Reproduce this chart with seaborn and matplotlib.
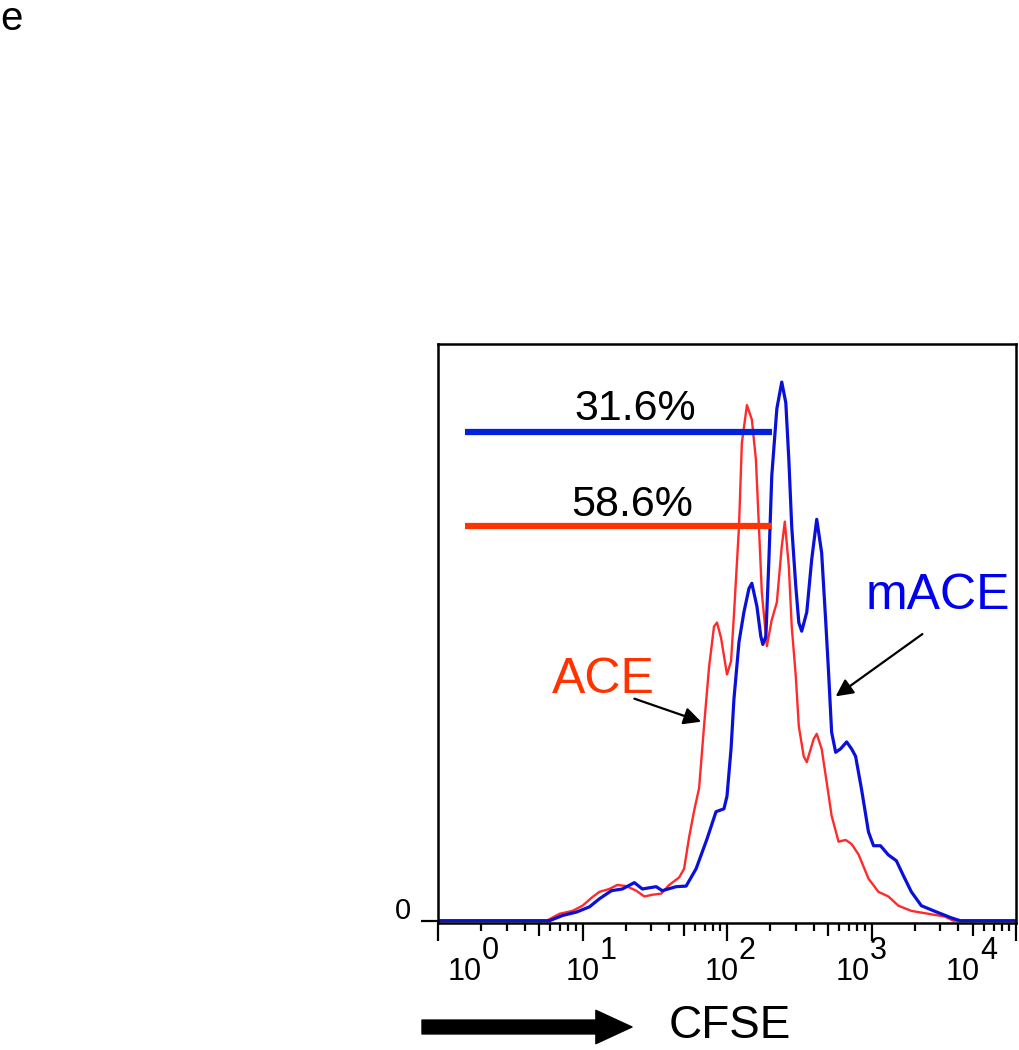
import matplotlib
matplotlib.use("Agg")
import matplotlib.pyplot as plt
from matplotlib.ticker import LogLocator, NullFormatter
import numpy as np
import pandas as pd
import seaborn as sns

# CFSE histogram traces (log10 intensity, % of axis height)
ace_log = [0.0, 0.752, 0.841, 0.931, 1.0, 1.069, 1.117, 1.186, 1.241, 1.303, 1.372,
           1.428, 1.483, 1.545, 1.6, 1.669, 1.703, 1.738, 1.772, 1.807, 1.841, 1.876,
           1.910, 1.931, 1.959, 2.0, 2.028, 2.048, 2.083, 2.103, 2.138, 2.172, 2.2,
           2.221, 2.241, 2.276, 2.310, 2.345, 2.379, 2.4, 2.428, 2.448, 2.476, 2.497,
           2.531, 2.552, 2.6, 2.621, 2.655, 2.690, 2.724, 2.772, 2.821, 2.862, 2.910,
           2.979, 3.048, 3.117, 3.186, 3.276, 3.393, 3.510, 3.566, 4.0]
ace_count = [0.0, 0.0, 1.2, 1.7, 2.6, 4.1, 5.0, 5.5, 6.2, 6.0, 5.2,
             4.2, 4.5, 4.7, 6.2, 7.5, 9.0, 14.5, 19.0, 23.0, 33.7, 44.0,
             51.0, 51.7, 49.0, 42.7, 45.0, 53.0, 68.3, 82.9, 89.4, 86.9, 80.0,
             68.3, 56.9, 47.6, 52.2, 55.2, 64.9, 69.2, 61.4, 51.0, 42.4, 33.7,
             28.5, 27.5, 31.5, 32.4, 29.8, 24.0, 18.2, 13.7, 14.0, 13.3, 11.5,
             7.3, 5.0, 4.2, 2.6, 1.7, 1.2, 0.7, 0.0, 0.0]

mace_log = [0.0, 0.772, 0.862, 0.959, 1.048, 1.117, 1.2, 1.276, 1.359, 1.414, 1.510,
            1.552, 1.648, 1.717, 1.786, 1.862, 1.924, 1.979, 2.0, 2.028, 2.048, 2.083,
            2.117, 2.152, 2.172, 2.207, 2.234, 2.248, 2.269, 2.290, 2.310, 2.345, 2.379,
            2.407, 2.428, 2.448, 2.476, 2.497, 2.517, 2.552, 2.586, 2.621, 2.655, 2.683,
            2.703, 2.724, 2.752, 2.786, 2.828, 2.862, 2.890, 2.931, 2.979, 3.014, 3.062,
            3.117, 3.172, 3.221, 3.276, 3.345, 3.441, 3.552, 3.614, 4.0]
mace_count = [0.0, 0.0, 0.9, 1.5, 2.4, 3.8, 5.2, 5.5, 6.6, 5.5, 5.9,
              5.2, 5.9, 6.0, 9.0, 14.2, 18.9, 19.4, 21.6, 29.8, 38.4, 48.3,
              53.5, 57.6, 58.5, 54.5, 49.3, 47.9, 49.3, 62.6, 77.2, 88.8, 93.4,
              89.8, 79.9, 68.3, 58.0, 51.7, 50.2, 53.5, 62.6, 69.6, 63.8, 52.0,
              43.0, 32.7, 29.2, 29.8, 31.0, 29.8, 28.5, 22.8, 15.4, 13.0, 13.0,
              11.4, 10.4, 7.8, 5.0, 2.6, 1.6, 0.5, 0.0, 0.0]

# gates (log10 range, height) and their percentages
gate_log = [0.186, 2.310]
gate_mace_y = 84.8
gate_ace_y = 68.4
gate_mace_pct = "31.6%"
gate_ace_pct = "58.6%"

decade_labels = ["0", "1", "2", "3", "4"]
decade_label_pos = [0.30, 1.12, 2.08, 2.99, 3.75]

RED = "#ff2a2a"
RED_TXT = "#ff3300"
BLUE = "#0a10d8"

sns.set_style("ticks")
plt.rcParams["font.family"] = ["Liberation Sans", "DejaVu Sans"]
plt.rcParams["text.color"] = "black"
plt.rcParams["xtick.color"] = "black"
plt.rcParams["ytick.color"] = "black"

df_ace = pd.DataFrame({"cfse": np.power(10.0, ace_log), "count": ace_count})
df_mace = pd.DataFrame({"cfse": np.power(10.0, mace_log), "count": mace_count})

fig = plt.figure(figsize=(10.2, 10.5), dpi=100)
ax = fig.add_axes([438 / 1020, 127 / 1050, 578 / 1020, 579 / 1050])

sns.lineplot(data=df_ace, x="cfse", y="count", ax=ax, color=RED, lw=1.7,
             sort=False, estimator=None)
sns.lineplot(data=df_mace, x="cfse", y="count", ax=ax, color=BLUE, lw=2.3,
             sort=False, estimator=None)

ax.set_xscale("log")
ax.set_xlim(1, 1e4)
ax.set_ylim(-0.4, 100)
ax.set_xlabel("")
ax.set_ylabel("")

gx = np.power(10.0, gate_log)
ax.hlines(gate_mace_y, gx[0], gx[1], color="#0022dd", lw=4.5)
ax.hlines(gate_ace_y, gx[0], gx[1], color="#ff3300", lw=4.5)
ax.text(10 ** 1.366, gate_mace_y + 2.1, gate_mace_pct, ha="center", va="baseline", fontsize=31)
ax.text(10 ** 1.345, gate_ace_y + 1.7, gate_ace_pct, ha="center", va="baseline", fontsize=31)

ax.text(10 ** 1.145, 39.4, "ACE", color=RED_TXT, ha="center", va="baseline", fontsize=36)
ax.text(10 ** 3.462, 54.1, "mACE", color="#0000ee", ha="center", va="baseline", fontsize=36)
arrow = dict(arrowstyle="-|>", color="black", lw=1.6, mutation_scale=26, shrinkA=0, shrinkB=0)
ax.annotate("", xy=(10 ** 1.821, 34.5), xytext=(10 ** 1.359, 38.5), arrowprops=arrow)
ax.annotate("", xy=(10 ** 2.752, 38.9), xytext=(10 ** 3.352, 49.7), arrowprops=arrow)

# ticks
for s in ax.spines.values():
    s.set_linewidth(1.8)
    s.set_color("black")
ax.set_xticks([1, 10, 100, 1000, 10000])
ax.set_xticklabels([])
ax.xaxis.set_minor_locator(LogLocator(base=10, subs=[2, 3, 4, 6, 7, 8, 9]))
ax.xaxis.set_minor_formatter(NullFormatter())
ax.tick_params(axis="x", which="major", length=13, width=1.6, direction="out")
ax.tick_params(axis="x", which="minor", length=6, width=1.6, direction="out")
sec = ax.secondary_xaxis("bottom")
sec.set_xticks([5, 50, 500, 5000])
sec.set_xticklabels([])
sec.tick_params(length=9, width=1.6, direction="out", color="black")
sec.spines["bottom"].set_visible(False)
ax.set_yticks([0])
ax.set_yticklabels([])
ax.tick_params(axis="y", length=12, width=1.6, direction="out")
ax.text(-0.047, 0.3, "0", transform=ax.get_yaxis_transform(), ha="right", va="baseline",
        fontsize=21)

xt = ax.get_xaxis_transform()
for lab, pos in zip(decade_labels, decade_label_pos):
    ax.text(10 ** pos, -0.0984, "10", transform=xt, ha="right", va="baseline", fontsize=22)
    ax.text(10 ** pos, -0.062, lab, transform=xt, ha="left", va="baseline", fontsize=22)

# axis caption and panel letter
ax.annotate("", xy=(632, 23), xycoords="figure pixels", xytext=(422, 23),
            textcoords="figure pixels",
            arrowprops=dict(arrowstyle="simple,head_width=1.2,head_length=1.3,tail_width=0.5",
                            color="black", mutation_scale=20, shrinkA=0, shrinkB=0))
fig.text(669 / 1020, 12 / 1050, "CFSE", fontsize=33, ha="left", va="baseline")
fig.text(0.0, 1 - 30 / 1050, "e", fontsize=29, ha="left", va="baseline")

fig.savefig("out.png", dpi=100)
